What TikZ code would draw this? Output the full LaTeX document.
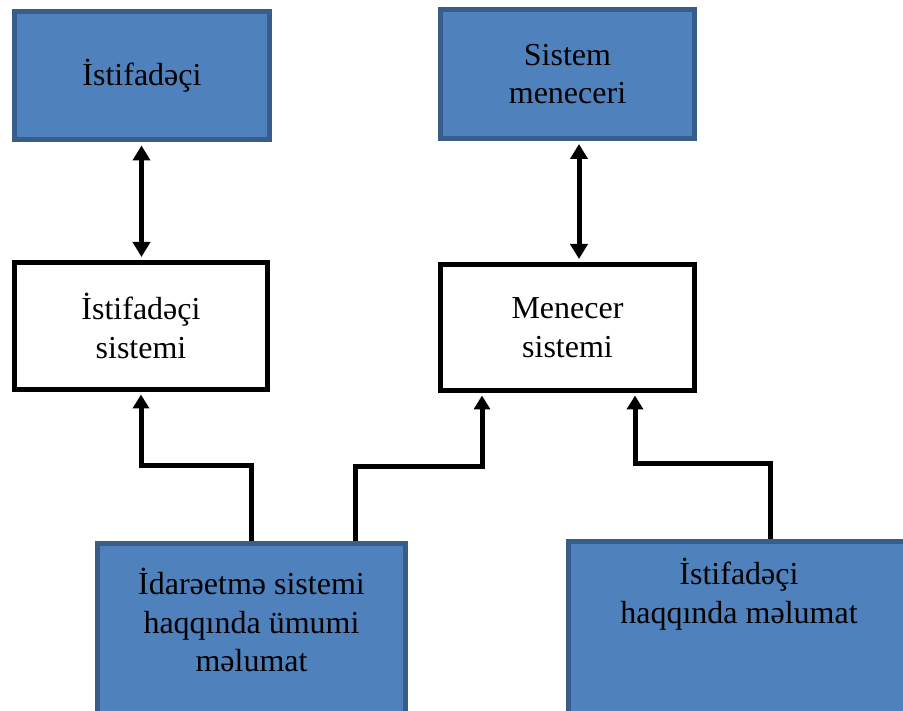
\documentclass[tikz,border=0pt]{standalone}
\usepackage{fontspec}
\setmainfont{Liberation Serif}
\usetikzlibrary{arrows.meta}
\definecolor{boxfill}{HTML}{4F81BD}
\definecolor{boxedge}{HTML}{385D8A}
\tikzset{
  txt/.style={font=\fontsize{32}{38.5}\selectfont, align=center, inner sep=0pt},
  bluebox/.style={draw=boxedge, fill=boxfill, line width=5pt, inner sep=0pt, txt},
  whitebox/.style={draw=black, fill=white, line width=5pt, inner sep=0pt, txt},
  conn/.style={line width=5pt, -{Triangle[width=16pt,length=14pt]}, shorten >=2.5pt},
  dconn/.style={line width=5pt, {Triangle[width=17pt,length=15pt]}-{Triangle[width=17pt,length=15pt]}, shorten >=3pt, shorten <=3pt}
}
\begin{document}
\begin{tikzpicture}[x=1pt,y=-1pt]
\clip (0,0) rectangle (903,711);
\fill[white] (0,0) rectangle (903,711);
% top boxes
\node[bluebox, minimum width=255pt, minimum height=128pt] (b1) at (142,76) {İstifadəçi};
\node[bluebox, minimum width=254pt, minimum height=129pt] (b2) at (567.5,74) {Sistem\\meneceri};
% middle boxes
\node[whitebox, minimum width=253pt, minimum height=127pt] (b3) at (141,326) {İstifadəçi\\sistemi};
\node[whitebox, minimum width=254pt, minimum height=126pt] (b4) at (567.5,327.5) {Menecer\\sistemi};
% bottom boxes
\node[bluebox, minimum width=308pt, minimum height=200pt, anchor=north] (b5) at (251.5,540.5) {};
\node[txt] (t5) at (251.5,620) {İdarəetmə sistemi\\haqqında ümumi\\məlumat};
\node[bluebox, minimum width=360pt, minimum height=200pt, anchor=north west] (b6) at (565.5,538.5) {};
\node[txt] (t6) at (739,594) {İstifadəçi\\haqqında məlumat};
% coordinates for elbows
\coordinate (a1) at (141.5,200);
\coordinate (a2) at (579,200);
\coordinate (k1) at (251,465);
\coordinate (k1b) at (141,465);
\coordinate (k2a) at (355,466);
\coordinate (k2b) at (482,466);
\coordinate (k3a) at (770,463);
\coordinate (k3b) at (635,463);
% double arrows
\draw[dconn] (b1.south -| a1) -- (b3.north -| a1);
\draw[dconn] (b2.south -| a2) -- (b4.north -| a2);
% connectors
\draw[conn] (b5.north -| k1) -- (k1) -- (k1b) -- (b3.south -| k1b);
\draw[conn] (b5.north -| k2a) -- (k2a) -- (k2b) -- (b4.south -| k2b);
\draw[conn] (b6.north -| k3a) -- (k3a) -- (k3b) -- (b4.south -| k3b);
\end{tikzpicture}
\end{document}
